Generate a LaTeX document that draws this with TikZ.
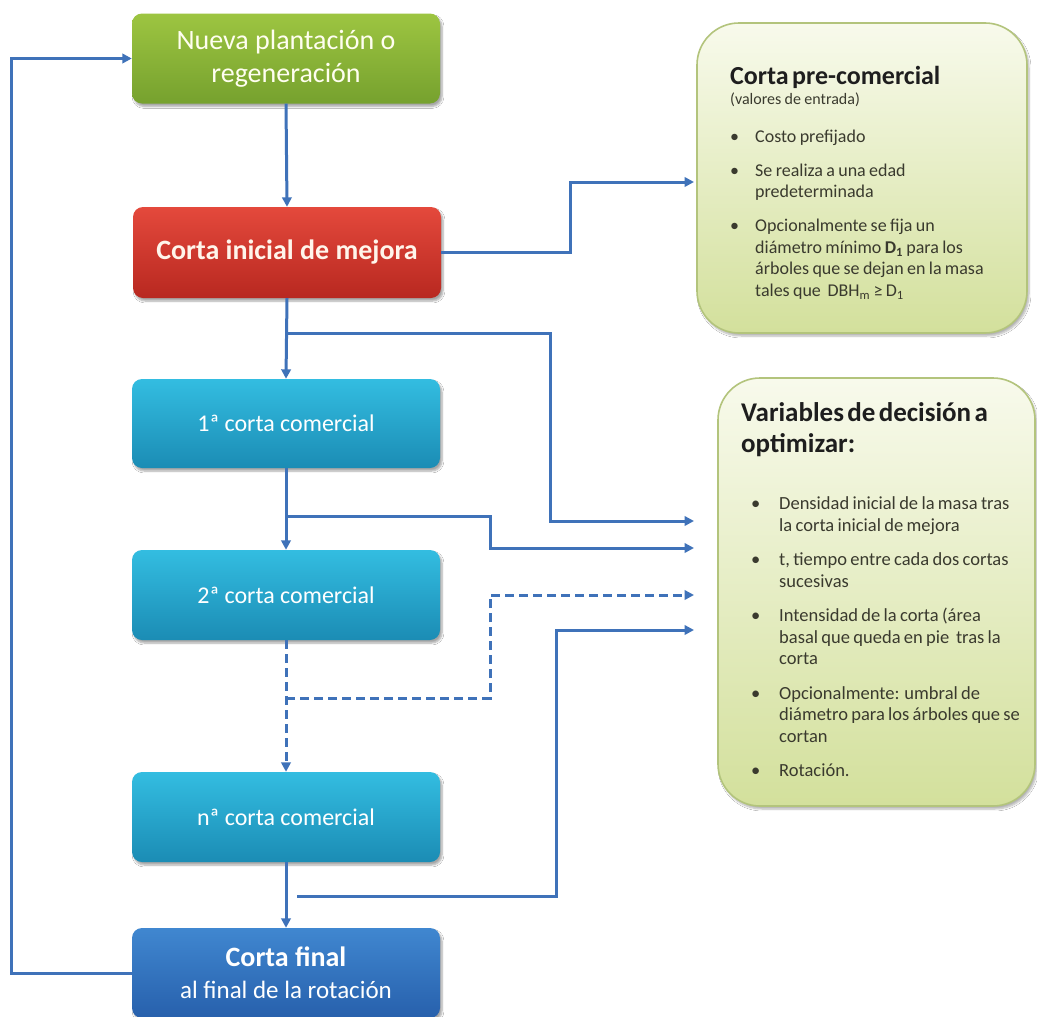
\documentclass[tikz,border=0pt]{standalone}
\usepackage{fontspec}
\setmainfont{Carlito}
\usetikzlibrary{arrows.meta,shadows,shadows.blur}
\definecolor{lnk}{HTML}{3F72B9}
\definecolor{grtop}{HTML}{9DC541}
\definecolor{grbot}{HTML}{76A12E}
\definecolor{rdtop}{HTML}{E4493C}
\definecolor{rdbot}{HTML}{B82820}
\definecolor{cytop}{HTML}{33BDE1}
\definecolor{cybot}{HTML}{1B8CB4}
\definecolor{dbtop}{HTML}{4087D0}
\definecolor{dbbot}{HTML}{2760AC}
\definecolor{pntop}{HTML}{F8FAEC}
\definecolor{pnbot}{HTML}{D3E09C}
\definecolor{pnborder}{HTML}{B3C47C}
\definecolor{ttl}{HTML}{1E1E1E}
\definecolor{btxt}{HTML}{3A3A2E}
\newlength\bgap
\newcommand{\bitem}[1]{\par\noindent\hangindent=\bgap\hangafter=1\makebox[\bgap][l]{\textbullet}#1\par}
\begin{document}
\begin{tikzpicture}[x=1pt,y=-1pt,
  flowbox/.style={rounded corners=10pt, minimum width=308pt, minimum height=90pt,
    inner sep=0pt, align=center, text=white,
    blur shadow={shadow xshift=2pt, shadow yshift=-3pt, shadow opacity=35, shadow blur steps=6}},
  greenbox/.style={flowbox, top color=grtop, bottom color=grbot, text=white!94!yellow},
  redbox/.style={flowbox, top color=rdtop, bottom color=rdbot, text=white!92!orange},
  cyanbox/.style={flowbox, top color=cytop, bottom color=cybot},
  darkbox/.style={flowbox, top color=dbtop, bottom color=dbbot},
  panel/.style={rounded corners=42pt, top color=pntop, bottom color=pnbot, draw=pnborder, line width=1.6pt,
    blur shadow={shadow xshift=2pt, shadow yshift=-3pt, shadow opacity=30, shadow blur steps=6}},
  ptext/.style={anchor=north west, inner sep=0pt, align=left, text width=300pt},
  lnkline/.style={draw=lnk, line width=3pt},
  lnkarrow/.style={lnkline, -{Triangle[length=9.5pt,width=9.5pt]}},
]
\fill[white] (0,0) rectangle (1037,1017);
\useasboundingbox (0,0) rectangle (1037,1017);

% left flow boxes
\node[greenbox, font=\fontsize{28}{33}\selectfont] (nueva) at (286,58.5) {Nueva plantación o\\regeneración};
\node[redbox, minimum height=91pt, font=\fontsize{28}{33}\selectfont\bfseries] (inicial) at (287,252.5) {Corta inicial de mejora};
\node[cyanbox, minimum height=89pt, font=\fontsize{24}{28}\selectfont] (c1) at (286,423.5) {1ª corta comercial};
\node[cyanbox, font=\fontsize{24}{28}\selectfont] (c2) at (286,595) {2ª corta comercial};
\node[cyanbox, font=\fontsize{24}{28}\selectfont] (cn) at (286,817) {nª corta comercial};
\node[darkbox, minimum height=90pt, font=\fontsize{25}{32}\selectfont] (final) at (286,973) {{\fontsize{28}{32}\selectfont\bfseries Corta final}\\al final de la rotación};

% right panels
\node[panel, minimum width=330pt, minimum height=310pt] (pre) at (862,178) {};
\node[ptext, text=btxt] (pretext) at (730,66) {%
  {\fontsize{26}{30}\selectfont\bfseries\color{ttl} Corta pre-comercial\par}
  {\fontsize{16}{20}\selectfont (valores de entrada)\par}
  \vspace{16.5pt}
  {\fontsize{18}{21.5}\selectfont\setlength\bgap{25pt}%
  \bitem{Costo prefijado}\vspace{12.5pt}
  \bitem{Se realiza a una edad\newline predeterminada}\vspace{12.5pt}
  \bitem{Opcionalmente se fija un\newline diámetro mínimo \textbf{D\textsubscript{1}} para los\newline árboles que se dejan en la masa\newline tales que\ \ DBH\textsubscript{m} ≥ D\textsubscript{1}}}};

\node[panel, minimum width=317pt, minimum height=428pt] (vars) at (876.5,592) {};
\node[ptext, text=btxt] (varstext) at (741,402) {%
  {\fontsize{27}{31.5}\selectfont\bfseries\color{ttl} Variables de decisión a\\optimizar:\par}
  \vspace{35.5pt}
  {\fontsize{18.5}{21.5}\selectfont\setlength\bgap{28pt}\leftskip=10pt
  \bitem{Densidad inicial de la masa tras\newline la corta inicial de mejora}\vspace{13pt}
  \bitem{t, tiempo entre cada dos cortas\newline sucesivas}\vspace{13pt}
  \bitem{Intensidad de la corta (área\newline basal que queda en pie\ \ tras la\newline corta}\vspace{13pt}
  \bitem{Opcionalmente: umbral de\newline diámetro para los árboles que se\newline cortan}\vspace{13pt}
  \bitem{Rotación.}}};

% junction and target coordinates
\coordinate (j1) at (286,333);
\coordinate (j2) at (286,516);
\coordinate (j3) at (286,698);
\coordinate (j4) at (297,896);
\coordinate (t0) at (694,182);
\coordinate (t1) at (694,521);
\coordinate (t2) at (694,548);
\coordinate (t3) at (694,595);
\coordinate (t4) at (694,630);

% main trunk
\draw[lnkarrow] (nueva.south) -- (inicial.north);
\draw[lnkarrow] (inicial.south) -- (c1.north);
\draw[lnkarrow] (c1.south) -- (c2.north);
\draw[lnkarrow, dash pattern=on 9pt off 5pt] (c2.south) -- (cn.north);
\draw[lnkarrow] (cn.south) -- (final.north);
\draw[lnkarrow] (final.west) -- ++(-120,0) |- (nueva.west);

% branches to panels
\draw[lnkarrow] (inicial.east) -- (570,252.5) -- (570,182) -- (t0);
\draw[lnkarrow] (j1) -- (550,333) -- (550,521) -- (t1);
\draw[lnkarrow] (j2) -- (490,516) -- (490,548) -- (t2);
\draw[lnkarrow, dash pattern=on 9pt off 5pt] (j3) -- (490,698) -- (490,595) -- (t3);
\draw[lnkarrow] (j4) -- (556,896) -- (556,630) -- (t4);
\end{tikzpicture}
\end{document}
